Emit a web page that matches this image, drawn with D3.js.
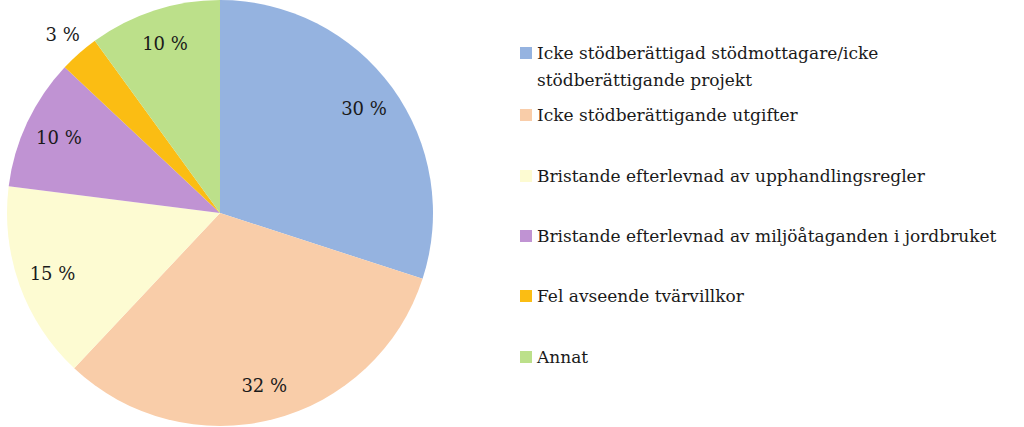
<!DOCTYPE html>
<html><head><meta charset="utf-8">
<script src="https://cdn.jsdelivr.net/npm/d3@7"></script>
<style>html,body{margin:0;padding:0;background:#fff;}svg{display:block;}
.serif{font-family:"DejaVu Serif";}</style>
</head><body>
<svg id="chart" width="1024" height="427"></svg>
<script>
const categories = [
  ["Icke stödberättigad stödmottagare/icke", "stödberättigande projekt"],
  ["Icke stödberättigande utgifter"],
  ["Bristande efterlevnad av upphandlingsregler"],
  ["Bristande efterlevnad av miljöåtaganden i jordbruket"],
  ["Fel avseende tvärvillkor"],
  ["Annat"]
];
const values = [30, 32, 15, 10, 3, 10];
const labels = ["30 %", "32 %", "15 %", "10 %", "3 %", "10 %"];
const colors = ["#95B3E0", "#F9CDA9", "#FDFBD2", "#C093D3", "#FBBD13", "#BCE08A"];

const svg = d3.select("#chart");
const cx = 220, cy = 213, R = 213;
const g = svg.append("g").attr("transform", `translate(${cx},${cy})`);
const pie = d3.pie().sort(null).value(d => d);
const arcs = pie(values);
const arc = d3.arc().innerRadius(0).outerRadius(R);
g.selectAll("path").data(arcs).join("path")
  .attr("d", arc).attr("fill", (d, i) => colors[i]);

const labelArc = d3.arc().innerRadius(178).outerRadius(178);
const outArc = d3.arc().innerRadius(238).outerRadius(238);
g.selectAll("text.lbl").data(arcs).join("text")
  .attr("class", "lbl serif")
  .attr("transform", d => {
    const small = (d.endAngle - d.startAngle) < 0.25;
    const c = (small ? outArc : labelArc).centroid(d);
    return `translate(${c[0]},${c[1]})`;
  })
  .attr("text-anchor", "middle")
  .attr("dy", "0.35em")
  .style("font-size", "18px")
  .style("fill", "#1a1a1a")
  .text((d, i) => labels[i]);

const baselines = [59, 121, 182, 242, 302, 363];
const lg = svg.append("g");
categories.forEach((lines, i) => {
  const b = baselines[i];
  lg.append("rect").attr("x", 520).attr("y", b - 12).attr("width", 12).attr("height", 12)
    .attr("fill", colors[i]);
  const t = lg.append("text").attr("class", "serif").attr("x", 537).attr("y", b)
    .style("font-size", "17px")
    .style("fill", "#1a1a1a");
  lines.forEach((ln, j) => {
    t.append("tspan").attr("x", 537).attr("y", b + j * 27).text(ln);
  });
});
</script>
</body></html>
